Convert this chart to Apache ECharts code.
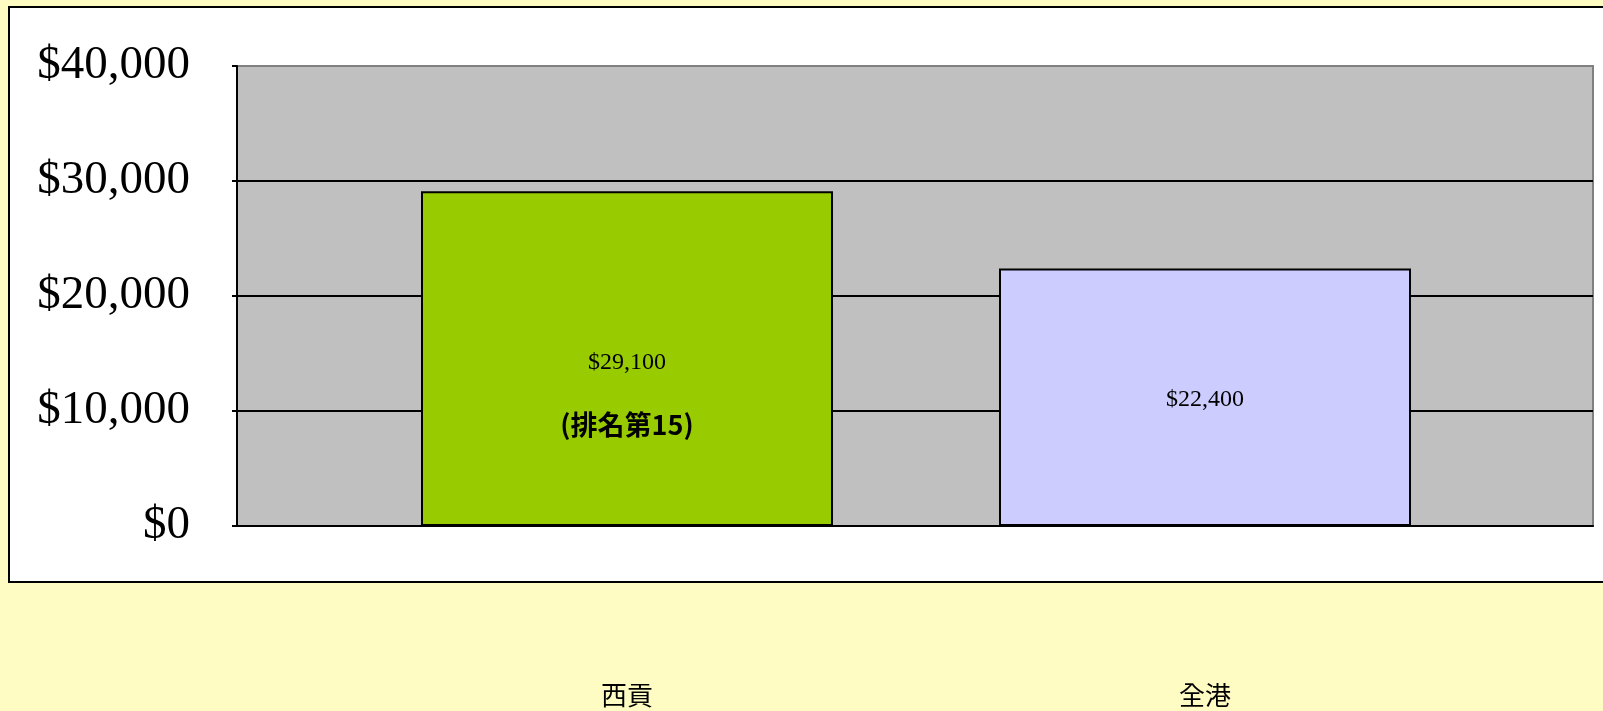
<!DOCTYPE html>
<html>
<head>
<meta charset="utf-8">
<script src="https://cdn.jsdelivr.net/npm/echarts@6/dist/echarts.min.js"></script>
<style>
html,body{margin:0;padding:0;background:#FEFBC3;}
#chart{width:1603px;height:711px;}
</style>
</head>
<body>
<div id="chart"></div>
<script>
const categories = ['西貢', '全港'];
const values = [29100, 22400];
const barColors = ['#99CC00', '#CCCCFF'];
const valueLabels = ['$29,100', '$22,400'];
const rankNotes = ['(排名第15)', ''];
const yTicks = [0, 10000, 20000, 30000, 40000];

const chart = echarts.init(document.getElementById('chart'));
function money(v){ return '$' + v.toLocaleString('en-US'); }

const option = {
  backgroundColor: '#FEFBC3',
  animation: false,
  graphic: [
    { type: 'rect', z: -10, shape: { x: 9, y: 7, width: 1610, height: 575 },
      style: { fill: '#FFFFFF', stroke: '#000000', lineWidth: 2 } }
  ],
  grid: [
    { left: 237, right: 10, top: 66, bottom: 185, show: true,
      backgroundColor: '#C0C0C0', borderColor: '#808080', borderWidth: 2 },
    { left: 338, right: 109, top: 66, bottom: 185 }
  ],
  xAxis: [
    { gridIndex: 0, type: 'category', data: categories,
      axisLine: { show: true, lineStyle: { color: '#000', width: 2 } },
      axisTick: { show: false }, axisLabel: { show: false }, splitLine: { show: false } },
    { gridIndex: 1, type: 'category', data: categories,
      axisLine: { show: false }, axisTick: { show: false },
      axisLabel: { show: true, margin: 156, fontSize: 26, color: '#000',
        fontFamily: '"Noto Sans CJK TC", serif' } }
  ],
  yAxis: [
    { gridIndex: 0, type: 'value', min: yTicks[0], max: yTicks[yTicks.length-1], interval: 10000,
      axisLine: { show: true, lineStyle: { color: '#000', width: 2 } },
      axisTick: { show: true, length: 5, lineStyle: { color: '#000', width: 2 } },
      axisLabel: { margin: 47, fontSize: 47, color: '#000', fontFamily: '"Liberation Serif", serif',
        formatter: money },
      splitLine: { show: true, lineStyle: { color: ['#000','#000','#000','#000','#808080'], width: 2 } } },
    { gridIndex: 1, type: 'value', min: yTicks[0], max: yTicks[yTicks.length-1], interval: 10000,
      show: false, splitLine: { show: false } }
  ],
  series: [{
    type: 'bar', xAxisIndex: 1, yAxisIndex: 1, barWidth: 412,
    data: values.map((v, i) => ({
      value: v,
      itemStyle: { color: barColors[i], borderColor: '#000', borderWidth: 2 },
      label: {
        show: true, position: 'inside',
        offset: rankNotes[i] ? [0, 35] : [0, 3],
        formatter: rankNotes[i] ? '{a|' + valueLabels[i] + '}\n{b|' + rankNotes[i] + '}' : '{a|' + valueLabels[i] + '}',
        rich: {
          a: { fontSize: 24, color: '#000', fontFamily: '"Liberation Serif", serif', lineHeight: 62 },
          b: { fontSize: 27, fontWeight: 'bold', color: '#000', fontFamily: '"Noto Sans CJK TC", serif', lineHeight: 62 }
        }
      }
    }))
  }]
};
chart.setOption(option);
</script>
</body>
</html>
